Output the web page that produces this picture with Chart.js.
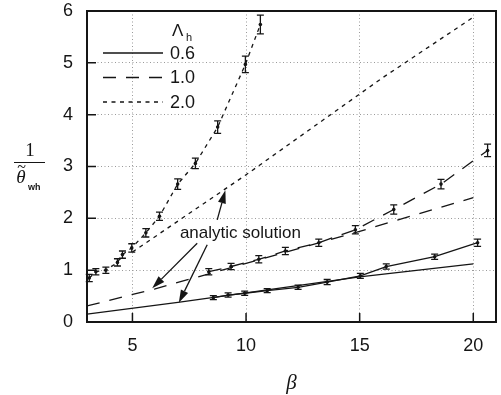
<!DOCTYPE html>
<html>
<head>
<meta charset="utf-8">
<script src="https://cdn.jsdelivr.net/npm/chart.js@4.4.0/dist/chart.umd.min.js"></script>
<style>
  html, body { margin: 0; padding: 0; background: #fff; }
  #wrap { width: 501px; height: 395px; }
</style>
</head>
<body>
<div id="wrap"><canvas id="c"></canvas></div>
<script>
// 1/theta_wh against beta, measured points (with error bars) and analytic curves
const beta06 = [8.56, 9.21, 9.94, 10.93, 12.29, 13.57, 15.03, 16.17, 18.30, 20.19];
const inv06  = [0.47, 0.52, 0.555, 0.605, 0.67, 0.77, 0.89, 1.07, 1.26, 1.53];
const err06  = [0.04, 0.04, 0.04, 0.04, 0.04, 0.05, 0.05, 0.05, 0.05, 0.07];

const beta10 = [8.36, 9.34, 10.56, 11.73, 13.2, 14.81, 16.5, 18.58, 20.63];
const inv10  = [0.97, 1.07, 1.21, 1.37, 1.53, 1.78, 2.17, 2.66, 3.31];
const err10  = [0.06, 0.06, 0.07, 0.07, 0.07, 0.08, 0.09, 0.09, 0.12];

const beta20 = [3.1, 3.39, 3.83, 4.34, 4.56, 4.97, 5.59, 6.19, 6.99, 7.77, 8.75, 9.97, 10.63];
const inv20  = [0.85, 0.97, 1.0, 1.15, 1.3, 1.43, 1.72, 2.04, 2.66, 3.06, 3.76, 4.97, 5.74];
const err20  = [0.07, 0.06, 0.06, 0.07, 0.07, 0.08, 0.08, 0.08, 0.1, 0.1, 0.12, 0.16, 0.18];

// analytic solutions
const anaBeta06 = [3, 7, 10, 15, 20];
const anaInv06  = [0.15, 0.38, 0.56, 0.87, 1.12];
const anaBeta10 = [3, 6, 10, 15, 20];
const anaInv10  = [0.31, 0.64, 1.13, 1.75, 2.40];
const anaBeta20 = [5, 10, 16, 20];
const anaInv20  = [1.35, 2.84, 4.71, 5.88];

const lambdaLabels = ['0.6', '1.0', '2.0'];
const xTicks = [5, 10, 15, 20];
const yTicks = [0, 1, 2, 3, 4, 5, 6];

const INK = '#151515';
const FONT = "'Liberation Sans', Arial, sans-serif";
const SERIF = "'Liberation Serif', 'DejaVu Serif', serif";
const DASHES = [[], [13, 10], [4, 4.5]];

const pts = (xs, ys) => xs.map((x, i) => ({ x, y: ys[i] }));

function lineSet(xs, ys, dash) {
  return { data: pts(xs, ys), showLine: true, borderColor: INK, borderWidth: 1.3,
           borderDash: dash, pointRadius: 0, tension: 0 };
}
function dataSet(xs, ys, errs, dash) {
  return { data: pts(xs, ys), errors: errs, showLine: true, borderColor: INK, borderWidth: 1.3,
           borderDash: dash, pointRadius: 1.8, pointBackgroundColor: INK, pointBorderWidth: 0, tension: 0 };
}

// label + arrows pointing at the analytic curves, in data units
const noteText = 'analytic solution';
const notePos = { x: 9.75, y: 1.72 };
const noteArrows = [
  { from: [8.73, 1.97], to: [9.09, 2.54] },
  { from: [7.85, 1.52], to: [5.87, 0.65] },
  { from: [8.29, 1.49], to: [7.04, 0.37] }
];

const errorBars = {
  id: 'errorBars',
  afterDatasetsDraw(chart) {
    const ctx = chart.ctx, xs = chart.scales.x, ys = chart.scales.y;
    ctx.save();
    ctx.strokeStyle = INK; ctx.lineWidth = 1.3; ctx.setLineDash([]);
    chart.data.datasets.forEach(ds => {
      if (!ds.errors) return;
      ds.data.forEach((p, i) => {
        const x = xs.getPixelForValue(p.x);
        const lo = ys.getPixelForValue(p.y - ds.errors[i]);
        const hi = ys.getPixelForValue(p.y + ds.errors[i]);
        ctx.beginPath();
        ctx.moveTo(x, lo); ctx.lineTo(x, hi);
        ctx.moveTo(x - 3.5, lo); ctx.lineTo(x + 3.5, lo);
        ctx.moveTo(x - 3.5, hi); ctx.lineTo(x + 3.5, hi);
        ctx.stroke();
      });
    });
    ctx.restore();
  }
};

const decorations = {
  id: 'decorations',
  afterDraw(chart) {
    const ctx = chart.ctx, a = chart.chartArea;
    const xs = chart.scales.x, ys = chart.scales.y;
    ctx.save();
    ctx.strokeStyle = INK; ctx.fillStyle = INK; ctx.setLineDash([]);

    // frame and inward ticks
    ctx.lineWidth = 2;
    ctx.strokeRect(a.left, a.top, a.right - a.left, a.bottom - a.top);
    ctx.lineWidth = 1.5;
    ctx.beginPath();
    xTicks.forEach(v => {
      const x = xs.getPixelForValue(v);
      ctx.moveTo(x, a.bottom); ctx.lineTo(x, a.bottom - 9);
    });
    yTicks.slice(1, -1).forEach(v => {
      const y = ys.getPixelForValue(v);
      ctx.moveTo(a.left, y); ctx.lineTo(a.left + 9, y);
    });
    ctx.stroke();

    // legend
    const lx = a.left, ly = a.top;
    ctx.font = '17px ' + FONT;
    ctx.textBaseline = 'middle';
    ctx.textAlign = 'left';
    ctx.fillText('\u039B', lx + 85, ly + 20);
    ctx.font = '11px ' + FONT;
    ctx.fillText('h', lx + 99, ly + 27);
    ctx.font = '18px ' + FONT;
    lambdaLabels.forEach((t, i) => {
      const y = ly + 42 + i * 24.5;
      ctx.lineWidth = 1.3;
      ctx.setLineDash(DASHES[i]);
      ctx.beginPath(); ctx.moveTo(lx + 16, y); ctx.lineTo(lx + 76, y); ctx.stroke();
      ctx.setLineDash([]);
      ctx.fillText(t, lx + 83, y + 1);
    });

    // annotation
    ctx.font = '17px ' + FONT;
    ctx.textAlign = 'center';
    ctx.fillText(noteText, xs.getPixelForValue(notePos.x), ys.getPixelForValue(notePos.y));
    noteArrows.forEach(ar => {
      const x0 = xs.getPixelForValue(ar.from[0]), y0 = ys.getPixelForValue(ar.from[1]);
      const x1 = xs.getPixelForValue(ar.to[0]), y1 = ys.getPixelForValue(ar.to[1]);
      const ang = Math.atan2(y1 - y0, x1 - x0);
      const L = 13, W = 4;
      const bx = x1 - L * Math.cos(ang), by = y1 - L * Math.sin(ang);
      ctx.lineWidth = 1.3;
      ctx.beginPath(); ctx.moveTo(x0, y0); ctx.lineTo(bx, by); ctx.stroke();
      ctx.beginPath();
      ctx.moveTo(x1, y1);
      ctx.lineTo(bx + W * Math.sin(ang), by - W * Math.cos(ang));
      ctx.lineTo(bx - W * Math.sin(ang), by + W * Math.cos(ang));
      ctx.closePath(); ctx.fill();
    });

    // y title: 1 over theta-tilde_wh
    ctx.textAlign = 'center';
    ctx.font = '19px ' + SERIF;
    ctx.fillText('1', 30, 151);
    ctx.lineWidth = 1;
    ctx.beginPath(); ctx.moveTo(14, 162.5); ctx.lineTo(45, 162.5); ctx.stroke();
    ctx.font = 'italic 19px ' + SERIF;
    ctx.fillText('\u03B8', 21, 178);
    ctx.font = '16px ' + SERIF;
    ctx.fillText('~', 21.5, 168);
    ctx.font = 'bold 9px ' + FONT;
    ctx.textAlign = 'left';
    ctx.fillText('wh', 28, 188);

    // x title
    ctx.textAlign = 'center';
    ctx.font = 'italic 21px ' + SERIF;
    ctx.fillText('\u03B2', (a.left + a.right) / 2, 383);
    ctx.restore();
  }
};

new Chart(document.getElementById('c'), {
  type: 'scatter',
  data: {
    datasets: [
      lineSet(anaBeta06, anaInv06, DASHES[0]),
      lineSet(anaBeta10, anaInv10, DASHES[1]),
      lineSet(anaBeta20, anaInv20, DASHES[2]),
      dataSet(beta06, inv06, err06, DASHES[0]),
      dataSet(beta10, inv10, err10, DASHES[1]),
      dataSet(beta20, inv20, err20, DASHES[2])
    ]
  },
  options: {
    responsive: true,
    maintainAspectRatio: false,
    animation: false,
    layout: { padding: { top: 11, right: 5, left: 0, bottom: 0 } },
    plugins: { legend: { display: false }, tooltip: { enabled: false } },
    scales: {
      x: {
        type: 'linear', min: 3, max: 21,
        afterBuildTicks: s => { s.ticks = xTicks.map(v => ({ value: v })); },
        afterFit: s => { s.height = 73; s.paddingLeft = 0; s.paddingRight = 0; },
        grid: { color: '#9a9a9a', lineWidth: 1, drawTicks: false },
        border: { display: false, dash: [1, 2.5] },
        ticks: { color: INK, font: { family: FONT, size: 18 }, padding: 13, maxRotation: 0 }
      },
      y: {
        min: 0, max: 6,
        afterBuildTicks: s => { s.ticks = yTicks.map(v => ({ value: v })); },
        afterFit: s => { s.width = 87; s.paddingTop = 0; s.paddingBottom = 0; },
        grid: { color: '#9a9a9a', lineWidth: 1, drawTicks: false },
        border: { display: false, dash: [1, 2.5] },
        ticks: { color: INK, font: { family: FONT, size: 18 }, padding: 14 }
      }
    }
  },
  plugins: [errorBars, decorations]
});
</script>
</body>
</html>
